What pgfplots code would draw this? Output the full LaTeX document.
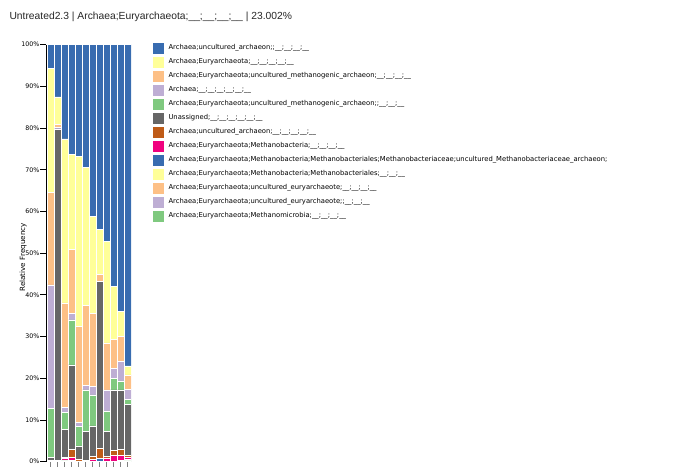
\documentclass[border=0pt]{standalone}
\usepackage{fontspec}
\setmainfont{DejaVu Sans}
\newfontfamily\titlefont{Liberation Sans}
\usepackage{pgfplots}
\usepackage{pgfplotstable}
\pgfplotsset{compat=1.18}

% Accent palette
\definecolor{cBlue}{HTML}{386CB0}
\definecolor{cYellow}{HTML}{FFFF99}
\definecolor{cOrange}{HTML}{FDC086}
\definecolor{cPurple}{HTML}{BEAED4}
\definecolor{cGreen}{HTML}{7FC97F}
\definecolor{cGray}{HTML}{666666}
\definecolor{cBrown}{HTML}{BF5B17}
\definecolor{cPink}{HTML}{F0027F}

% s1 = top of stack ... s13 = bottom
\pgfplotstableread{
x  s1   s2   s3    s4   s5   s6   s7  s8  s9  s10 s11 s12 s13
0  5.7  29.7 22.2  29.7 11.7 0.6  0.4 0   0   0   0   0   0
1  12.5 6.6  0.7   0.4  0    79.5 0.3 0   0   0   0   0   0
2  22.6 39.3 25.15 1.2  3.95 6.7  0.3 0.5 0.1 0   0   0   0.2
3  26.3 22.7 15.4  1.6  10.8 20.2 2.0 0.6 0.1 0   0.1 0.1 0.1
4  26.7 40.8 23.1  1.0  4.6  3.1  0.5 0   0   0   0.2 0   0
5  29.5 33.1 19.1  1.1  10.0 6.9  0.2 0   0   0   0.1 0   0
6  41.2 23.2 17.6  2.0  7.4  7.4  0.6 0.6 0   0   0   0   0
7  44.2 10.8 1.7   0    0    40.1 2.4 0   0.8 0   0   0   0
8  47.1 24.4 11.3  5.0  5.0  6.0  0.3 0.9 0   0   0   0   0
9  57.9 12.7 7.0   2.4  2.8  14.5 1.2 1.5 0   0   0   0   0
10 63.9 6.0  6.1   4.6  2.2  14.2 1.5 1.2 0   0   0.2 0   0.1
11 77.0 2.2  3.4   2.4  1.2  12.2 0.5 0.6 0.2 0.1 0   0   0.2
}\datatable

\begin{document}
\begin{tikzpicture}
\useasboundingbox (0,0) rectangle (690pt,466pt);
\node[anchor=base west, font=\titlefont\fontsize{10.3}{12}\selectfont, text=black!85] at (6pt,446pt)
  {Untreated2.3 | Archaea;Euryarchaeota;\_\_;\_\_;\_\_;\_\_ | 23.002\%};
\begin{axis}[
  at={(46pt,4.3pt)}, anchor=south west,
  scale only axis, width=85pt, height=417pt,
  ybar stacked, bar width=1,
  ymin=0, ymax=100, xmin=-0.643, xmax=11.5,
  axis x line*=bottom, axis y line*=left,
  axis line style={black, line width=0.8pt},
  xtick={0,...,11}, xticklabels={},
  xtick style={draw=gray, line width=0.5pt},
  ytick={0,10,...,100},
  yticklabels={0\%,10\%,20\%,30\%,40\%,50\%,60\%,70\%,80\%,90\%,100\%},
  yticklabel style={font=\fontsize{6.3}{7}\selectfont, inner sep=1pt},
  ytick style={black, line width=0.8pt},
  tick align=outside, major tick length=5.5pt,
  ylabel={Relative Frequency},
  ylabel style={at={(axis description cs:-0.27,0.49)}, anchor=center, font=\fontsize{7.2}{8}\selectfont},
  every axis plot/.append style={draw=white, line width=0.5pt},
  reverse legend,
  legend cell align=left,
  legend image code/.code={\fill[#1] (0pt,-6pt) rectangle (12pt,6pt);},
  legend style={at={(axis description cs:1.2471,1.0089)}, anchor=north west,
    draw=none, fill=none, inner sep=0pt, outer sep=0pt,
    font=\fontsize{6.8}{8}\selectfont,
    nodes={inner sep=0pt, minimum height=14pt},
    /tikz/every odd column/.append style={column sep=4pt},
    row sep=0pt},
]
\addplot[fill=cGreen]  table[x=x,y=s13] {\datatable};
\addlegendentry{Archaea;Euryarchaeota;Methanomicrobia;\_\_;\_\_;\_\_;\_\_}
\addplot[fill=cPurple] table[x=x,y=s12] {\datatable};
\addlegendentry{Archaea;Euryarchaeota;uncultured\_euryarchaeote;;\_\_;\_\_;\_\_}
\addplot[fill=cOrange] table[x=x,y=s11] {\datatable};
\addlegendentry{Archaea;Euryarchaeota;uncultured\_euryarchaeote;\_\_;\_\_;\_\_;\_\_}
\addplot[fill=cYellow] table[x=x,y=s10] {\datatable};
\addlegendentry{Archaea;Euryarchaeota;Methanobacteria;Methanobacteriales;\_\_;\_\_;\_\_}
\addplot[fill=cBlue]   table[x=x,y=s9]  {\datatable};
\addlegendentry{Archaea;Euryarchaeota;Methanobacteria;Methanobacteriales;Methanobacteriaceae;uncultured\_Methanobacteriaceae\_archaeon;}
\addplot[fill=cPink]   table[x=x,y=s8]  {\datatable};
\addlegendentry{Archaea;Euryarchaeota;Methanobacteria;\_\_;\_\_;\_\_;\_\_}
\addplot[fill=cBrown]  table[x=x,y=s7]  {\datatable};
\addlegendentry{Archaea;uncultured\_archaeon;\_\_;\_\_;\_\_;\_\_;\_\_}
\addplot[fill=cGray]   table[x=x,y=s6]  {\datatable};
\addlegendentry{Unassigned;\_\_;\_\_;\_\_;\_\_;\_\_;\_\_}
\addplot[fill=cGreen]  table[x=x,y=s5]  {\datatable};
\addlegendentry{Archaea;Euryarchaeota;uncultured\_methanogenic\_archaeon;;\_\_;\_\_;\_\_}
\addplot[fill=cPurple] table[x=x,y=s4]  {\datatable};
\addlegendentry{Archaea;\_\_;\_\_;\_\_;\_\_;\_\_;\_\_}
\addplot[fill=cOrange] table[x=x,y=s3]  {\datatable};
\addlegendentry{Archaea;Euryarchaeota;uncultured\_methanogenic\_archaeon;\_\_;\_\_;\_\_;\_\_}
\addplot[fill=cYellow] table[x=x,y=s2]  {\datatable};
\addlegendentry{Archaea;Euryarchaeota;\_\_;\_\_;\_\_;\_\_;\_\_}
\addplot[fill=cBlue]   table[x=x,y=s1]  {\datatable};
\addlegendentry{Archaea;uncultured\_archaeon;;\_\_;\_\_;\_\_;\_\_}
\end{axis}
\end{tikzpicture}
\end{document}
